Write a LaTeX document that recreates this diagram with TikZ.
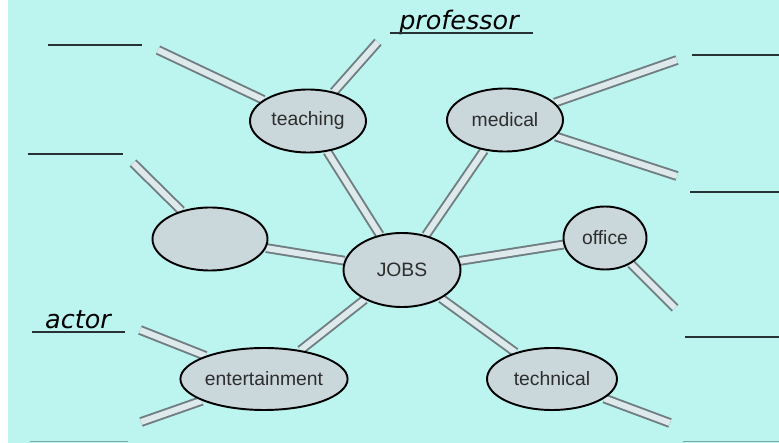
\documentclass[tikz,border=0pt]{standalone}
\usepackage{fontspec}
\setmainfont{Liberation Sans}
\newfontfamily\handfont{DejaVu Sans}
\usetikzlibrary{positioning,shapes,backgrounds}

\definecolor{sheet}{RGB}{188,245,240}
\definecolor{bubble}{RGB}{202,216,220}
\definecolor{tubeedge}{RGB}{112,126,130}
\definecolor{tubefill}{RGB}{222,233,235}
\definecolor{blankline}{RGB}{40,50,52}
\definecolor{ink}{RGB}{45,45,45}

\tikzset{
  topic/.style={ellipse, draw=black, line width=1.1pt, fill=bubble, inner sep=0pt, text=ink,
    minimum width=2.32cm, minimum height=1.26cm, font=\fontsize{11}{13}\selectfont},
  tube/.style={draw=tubeedge, line width=1.1pt, double=tubefill, double distance=3.4pt},
  blank/.style={draw=blankline, line width=0.8pt},
  hand/.style={font=\handfont\itshape\fontsize{14.5}{16}\selectfont}
}

\begin{document}
\begin{tikzpicture}[on grid]
\useasboundingbox (0,0) rectangle (15.58,8.86);
\node[topic, minimum width=2.34cm, minimum height=1.48cm] (jobs) at (8.04,3.46) {JOBS};
\node[topic, above left = 2.98cm and 1.88cm of jobs] (teaching) {teaching};
\node[topic, above right = 3.0cm and 2.06cm of jobs] (medical) {medical};
\node[topic, above left = 0.62cm and 3.84cm of jobs, minimum width=2.3cm] (empty) {};
\node[topic, above right = 0.64cm and 4.06cm of jobs, minimum width=1.66cm] (office) {office};
\node[topic, below left = 2.18cm and 2.76cm of jobs, minimum width=3.28cm, minimum height=1.24cm] (entertainment) {entertainment};
\node[topic, below right = 2.18cm and 3.0cm of jobs, minimum width=2.6cm, minimum height=1.24cm] (technical) {technical};

% loose ends of the branches
\coordinate (teachA) at (3.16,7.86);
\coordinate (teachB) at (7.56,8.02);
\coordinate (medA) at (13.54,7.66);
\coordinate (medB) at (13.54,5.34);
\coordinate (emptyA) at (2.66,5.60);
\coordinate (officeA) at (13.50,2.70);
\coordinate (entA) at (2.80,2.26);
\coordinate (entB) at (2.82,0.42);
\coordinate (techA) at (13.40,0.40);

% handwritten answers
\node[hand] (professor) at (9.18,8.42) {professor};
\node[hand] (actor) at (1.56,2.46) {actor};

\begin{scope}[on background layer]
\fill[white] (0,0) rectangle (15.58,8.86);
\fill[sheet] (0.16,0) rectangle (15.58,8.86);
\draw[tube] (jobs) -- (teaching);
\draw[tube] (jobs) -- (medical);
\draw[tube] (jobs) -- (empty);
\draw[tube] (jobs) -- (office);
\draw[tube] (jobs) -- (entertainment);
\draw[tube] (jobs) -- (technical);
\draw[tube] (teaching) -- (teachA);
\draw[tube] (teaching) -- (teachB);
\draw[tube] (medical) -- (medA);
\draw[tube] (medical) -- (medB);
\draw[tube] (empty) -- (emptyA);
\draw[tube] (office) -- (officeA);
\draw[tube] (entertainment) -- (entA);
\draw[tube] (entertainment) -- (entB);
\draw[tube] (technical) -- (techA);
\end{scope}

% lines to write on
\draw[blank] (0.96,7.96) -- (2.84,7.96);
\draw[blank] (0.56,5.78) -- (2.46,5.78);
\draw[blank] (7.80,8.20) -- (10.66,8.20);
\draw[blank] (13.84,7.76) -- (15.58,7.76);
\draw[blank] (13.80,5.02) -- (15.58,5.02);
\draw[blank] (13.70,2.12) -- (15.58,2.12);
\draw[blank] (0.64,2.22) -- (2.50,2.22);
\draw[blank, draw opacity=0.4] (0.60,0.03) -- (2.56,0.03);
\draw[blank, draw opacity=0.4] (13.66,0.03) -- (15.58,0.03);
\end{tikzpicture}
\end{document}
